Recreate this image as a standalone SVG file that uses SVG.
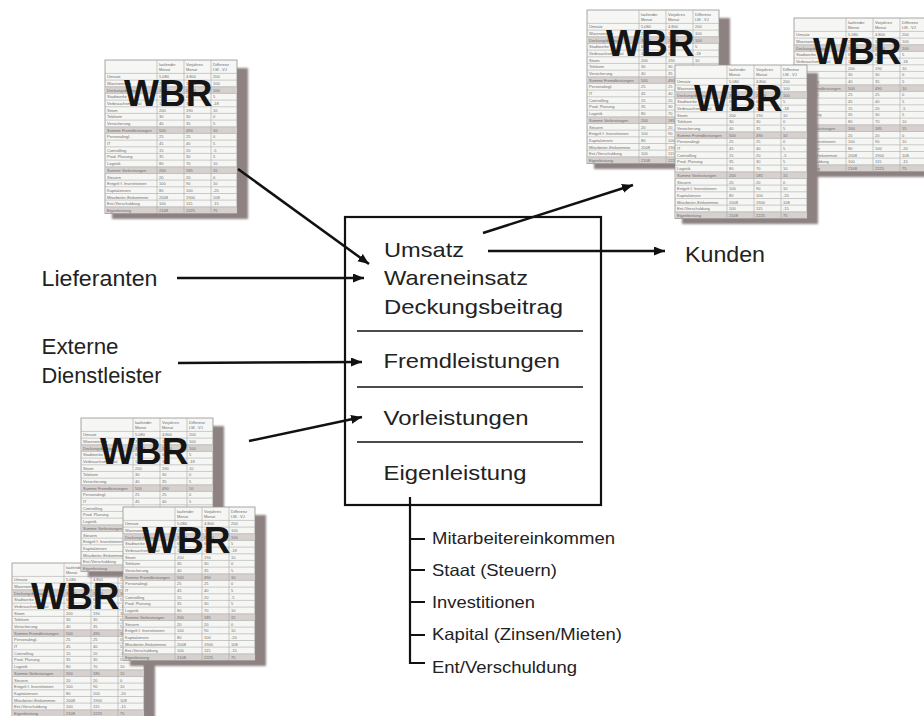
<svg xmlns="http://www.w3.org/2000/svg" xmlns:xlink="http://www.w3.org/1999/xlink" width="924" height="716" viewBox="0 0 924 716">
  <style>
    .lbl { font-family: "Liberation Sans", Arial, sans-serif; fill: #222; }
    .big { font-size: 22px; }
    .box-t { font-size: 21px; }
    .sub { font-size: 16.5px; }
    .wire { fill: none; stroke: #111; stroke-width: 2.5; }
    .frame { fill: #fff; stroke: #111; stroke-width: 2.2; }
    .sep { stroke: #111; stroke-width: 1.5; }
    .branch { fill: none; stroke: #111; stroke-width: 2.2; }
    .cell { font-family: "Liberation Sans", Arial, sans-serif; font-size: 4px; fill: #6e6e6e; }
    .grid { stroke: #aaaaaa; stroke-width: 0.6; }
    .mark { font-family: "Liberation Sans", Arial, sans-serif; font-weight: bold; font-size: 37px; fill: #151515; }
  </style>
  <defs>
    <marker id="head" markerUnits="userSpaceOnUse" markerWidth="12" markerHeight="10" refX="11" refY="4.5" orient="auto">
      <path d="M0,0 L11,4.5 L0,9 z" fill="#111"/>
    </marker>
    <filter id="soft" x="-10%" y="-10%" width="120%" height="120%">
      <feGaussianBlur stdDeviation="1.2"/>
    </filter>
    <!-- report sheet thumbnail: monthly value-added table with WBR stamp -->
    <g id="sheet">
      <rect x="7" y="8" width="136" height="151" fill="#8d8181" filter="url(#soft)"/>
      <rect x="0" y="0" width="132" height="153.5" fill="#f6f6f4" stroke="#929292" stroke-width="0.8"/>
      <g fill="#d6d0ce">
        <rect x="0.4" y="26.7" width="131.2" height="6.7"/>
        <rect x="0.4" y="66.8" width="131.2" height="6.6"/>
        <rect x="0.4" y="106.8" width="131.2" height="6.7"/>
        <rect x="0.4" y="146.8" width="131.2" height="6.3"/>
      </g>
      <path class="grid" d="M0,13.4H132M0,20.1H132M0,26.7H132M0,33.4H132M0,40.1H132M0,46.8H132M0,53.4H132M0,60.1H132M0,66.8H132M0,73.4H132M0,80.1H132M0,86.8H132M0,93.4H132M0,100.1H132M0,106.8H132M0,113.5H132M0,120.1H132M0,126.8H132M0,133.5H132M0,140.1H132M0,146.8H132M52,0V153.5M79,0V153.5M106,0V153.5"/>
      <g class="cell">
        <text y="6"><tspan x="54">laufender</tspan><tspan x="81">Vorjahres</tspan><tspan x="108">Differenz</tspan></text>
        <text y="10.5"><tspan x="54">Monat</tspan><tspan x="81">Monat</tspan><tspan x="108">LM - VJ</tspan></text>
        <text y="18.4"><tspan x="2">Umsatz</tspan><tspan x="54">5.080</tspan><tspan x="81">4.800</tspan><tspan x="108">200</tspan></text>
        <text y="25.1"><tspan x="2">Wareneinsatz</tspan><tspan x="54">2.000</tspan><tspan x="81">1.900</tspan><tspan x="108">100</tspan></text>
        <text y="31.7"><tspan x="2">Deckungsbeitrag</tspan><tspan x="54">3.080</tspan><tspan x="81">2.900</tspan><tspan x="108">100</tspan></text>
        <text y="38.4"><tspan x="2">Stadtwerke</tspan><tspan x="54">65</tspan><tspan x="81">60</tspan><tspan x="108">5</tspan></text>
        <text y="45.1"><tspan x="2">Verbrauchsmaterial</tspan><tspan x="54">12</tspan><tspan x="81">30</tspan><tspan x="108">-18</tspan></text>
        <text y="51.8"><tspan x="2">Strom</tspan><tspan x="54">200</tspan><tspan x="81">190</tspan><tspan x="108">10</tspan></text>
        <text y="58.4"><tspan x="2">Telekom</tspan><tspan x="54">30</tspan><tspan x="81">30</tspan><tspan x="108">0</tspan></text>
        <text y="65.1"><tspan x="2">Versicherung</tspan><tspan x="54">40</tspan><tspan x="81">35</tspan><tspan x="108">5</tspan></text>
        <text y="71.8"><tspan x="2">Summe Fremdleistungen</tspan><tspan x="54">500</tspan><tspan x="81">490</tspan><tspan x="108">10</tspan></text>
        <text y="78.4"><tspan x="2">Personalingl.</tspan><tspan x="54">25</tspan><tspan x="81">25</tspan><tspan x="108">0</tspan></text>
        <text y="85.1"><tspan x="2">IT</tspan><tspan x="54">45</tspan><tspan x="81">40</tspan><tspan x="108">5</tspan></text>
        <text y="91.8"><tspan x="2">Controlling</tspan><tspan x="54">15</tspan><tspan x="81">20</tspan><tspan x="108">-5</tspan></text>
        <text y="98.4"><tspan x="2">Prod. Planung</tspan><tspan x="54">35</tspan><tspan x="81">30</tspan><tspan x="108">5</tspan></text>
        <text y="105.1"><tspan x="2">Logistik</tspan><tspan x="54">80</tspan><tspan x="81">70</tspan><tspan x="108">10</tspan></text>
        <text y="111.8"><tspan x="2">Summe Vorleistungen</tspan><tspan x="54">200</tspan><tspan x="81">185</tspan><tspan x="108">15</tspan></text>
        <text y="118.5"><tspan x="2">Steuern</tspan><tspan x="54">20</tspan><tspan x="81">20</tspan><tspan x="108">0</tspan></text>
        <text y="125.1"><tspan x="2">Entgelt f. Investitionen</tspan><tspan x="54">100</tspan><tspan x="81">90</tspan><tspan x="108">10</tspan></text>
        <text y="131.8"><tspan x="2">Kapitalzinsen</tspan><tspan x="54">80</tspan><tspan x="81">100</tspan><tspan x="108">-20</tspan></text>
        <text y="138.5"><tspan x="2">Mitarbeiter-Einkommen</tspan><tspan x="54">2008</tspan><tspan x="81">1900</tspan><tspan x="108">108</tspan></text>
        <text y="145.1"><tspan x="2">Ent-/Verschuldung</tspan><tspan x="54">100</tspan><tspan x="81">115</tspan><tspan x="108">-15</tspan></text>
        <text y="151.8"><tspan x="2">Eigenleistung</tspan><tspan x="54">2108</tspan><tspan x="81">2225</tspan><tspan x="108">75</tspan></text>
      </g>
      <text class="mark" x="19" y="46">WBR</text>
    </g>
  </defs>

  <rect width="924" height="716" fill="#fff"/>

  <!-- report sheets -->
  <g id="sheet-top-left"><use xlink:href="#sheet" x="105" y="60"/></g>
  <g id="sheet-top-a"><use xlink:href="#sheet" x="587" y="10"/></g>
  <g id="sheet-top-c"><use xlink:href="#sheet" x="794" y="18"/></g>
  <g id="sheet-top-b"><use xlink:href="#sheet" x="675" y="65"/></g>
  <g id="sheet-bottom-f"><use xlink:href="#sheet" x="12" y="563"/></g>
  <g id="sheet-bottom-d"><use xlink:href="#sheet" x="81" y="418"/></g>
  <g id="sheet-bottom-e"><use xlink:href="#sheet" x="123" y="507"/></g>

  <!-- central value-added statement -->
  <g id="statement">
    <rect class="frame" x="345" y="217" width="256" height="288"/>
    <path class="sep" d="M357,331H583M357,387H583M357,442H583"/>
    <text class="lbl box-t" x="384" y="256.5" textLength="80" lengthAdjust="spacingAndGlyphs">Umsatz</text>
    <text class="lbl box-t" x="384" y="285" textLength="144" lengthAdjust="spacingAndGlyphs">Wareneinsatz</text>
    <text class="lbl box-t" x="384" y="313.5" textLength="179" lengthAdjust="spacingAndGlyphs">Deckungsbeitrag</text>
    <text class="lbl box-t" x="383.5" y="368.3" textLength="176.5" lengthAdjust="spacingAndGlyphs">Fremdleistungen</text>
    <text class="lbl box-t" x="383.5" y="425" textLength="145" lengthAdjust="spacingAndGlyphs">Vorleistungen</text>
    <text class="lbl box-t" x="383.5" y="479.5" textLength="143" lengthAdjust="spacingAndGlyphs">Eigenleistung</text>
  </g>

  <g id="suppliers">
    <text class="lbl big" x="41.5" y="285.7" textLength="116" lengthAdjust="spacingAndGlyphs">Lieferanten</text>
  </g>
  <g id="service-providers">
    <text class="lbl big" x="41.5" y="354.3" textLength="77" lengthAdjust="spacingAndGlyphs">Externe</text>
    <text class="lbl big" x="41.5" y="383.3" textLength="120" lengthAdjust="spacingAndGlyphs">Dienstleister</text>
  </g>
  <g id="customers">
    <text class="lbl big" x="685" y="261.7" textLength="80" lengthAdjust="spacingAndGlyphs">Kunden</text>
  </g>

  <!-- distribution of own performance -->
  <g id="distribution">
    <text class="lbl sub" x="432" y="544" textLength="183" lengthAdjust="spacingAndGlyphs">Mitarbeitereinkommen</text>
    <text class="lbl sub" x="432" y="576" textLength="125" lengthAdjust="spacingAndGlyphs">Staat (Steuern)</text>
    <text class="lbl sub" x="432" y="607.5" textLength="103" lengthAdjust="spacingAndGlyphs">Investitionen</text>
    <text class="lbl sub" x="432" y="640" textLength="190" lengthAdjust="spacingAndGlyphs">Kapital (Zinsen/Mieten)</text>
    <text class="lbl sub" x="432" y="672.5" textLength="145" lengthAdjust="spacingAndGlyphs">Ent/Verschuldung</text>
  </g>

  <!-- connectors -->
  <g id="connectors">
    <path class="wire" d="M238,169 L369,264" marker-end="url(#head)"/>
    <path class="wire" d="M177,278 L364,278" marker-end="url(#head)"/>
    <path class="wire" d="M178,363 L362,362" marker-end="url(#head)"/>
    <path class="wire" d="M249,441 L362,417" marker-end="url(#head)"/>
    <path class="wire" d="M483,233 L633,185" marker-end="url(#head)"/>
    <path class="wire" d="M488,251 L665,251" marker-end="url(#head)"/>
    <path class="branch" d="M410,497V663H425M410,539H425M410,570H425M410,602H425M410,635H425"/>
  </g>
</svg>
